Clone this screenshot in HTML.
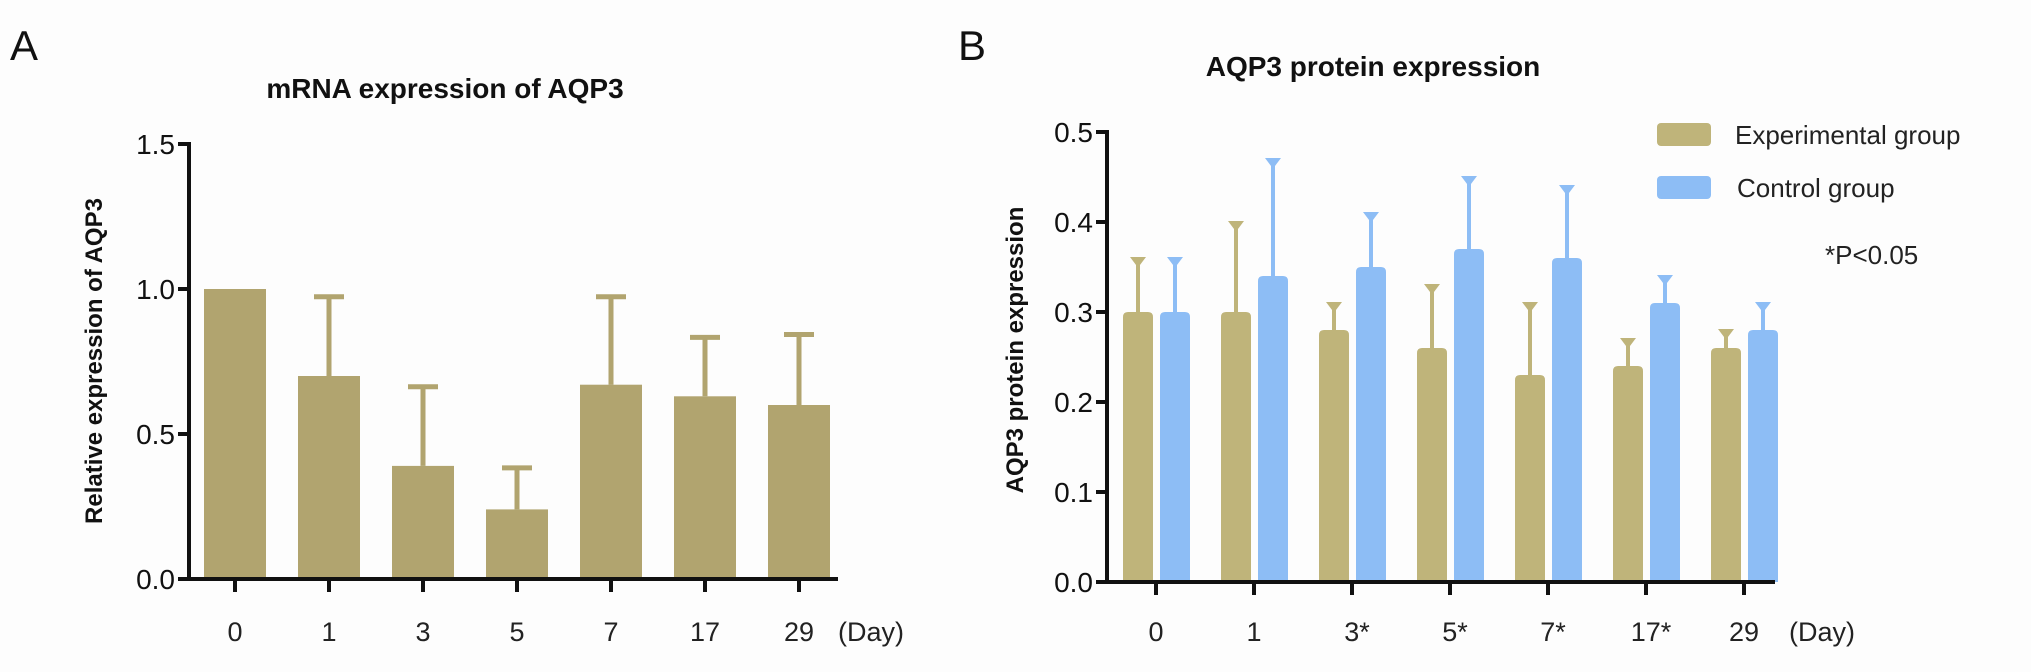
<!DOCTYPE html>
<html><head><meta charset="utf-8"><style>
html,body{margin:0;padding:0;background:#fff;}
svg{display:block;font-family:"Liberation Sans",Arial,sans-serif;}
</style></head><body>
<svg id="chart" width="2031" height="672" viewBox="0 0 2031 672" xmlns="http://www.w3.org/2000/svg">
<rect width="2031" height="672" fill="#fdfdfd"/>
<text x="10" y="60" font-size="42" fill="#111">A</text>
<text x="958" y="60" font-size="42" fill="#111">B</text>
<text x="445" y="98" font-size="28" font-weight="bold" text-anchor="middle" fill="#111">mRNA expression of AQP3</text>
<text x="1373" y="76" font-size="28" font-weight="bold" text-anchor="middle" fill="#111">AQP3 protein expression</text>
<text transform="translate(102,361) rotate(-90)" font-size="24" font-weight="bold" text-anchor="middle" fill="#111">Relative expression of AQP3</text>
<text transform="translate(1023,350) rotate(-90)" font-size="24" font-weight="bold" text-anchor="middle" fill="#111">AQP3 protein expression</text>
<g id="ga"></g>
<g id="gb"></g>
<g>
<g>
<rect x="1657" y="123" width="54" height="23" rx="4" fill="#bfb47a"/>
<text x="1735" y="144" font-size="26" fill="#222">Experimental group</text></g>
<g>
<rect x="1657" y="176" width="54" height="23" rx="4" fill="#8dbdf5"/>
<text x="1737" y="197" font-size="26" fill="#222">Control group</text></g>
</g>
<text x="1825" y="264" font-size="26" fill="#222">*P&lt;0.05</text>
</svg>
<script>
const aCategories = ["0","1","3","5","7","17","29"];
const aValues = [1.0,0.70,0.39,0.24,0.67,0.63,0.60];
const aErrTop = [1.0,0.98,0.67,0.39,0.98,0.84,0.85];
const aTicks = ["0.0","0.5","1.0","1.5"];
const bCategories = ["0","1","3*","5*","7*","17*","29"];
const bExp = [0.30,0.30,0.28,0.26,0.23,0.24,0.26];
const bExpErrTop = [0.36,0.40,0.31,0.33,0.31,0.27,0.28];
const bCtrl = [0.30,0.34,0.35,0.37,0.36,0.31,0.28];
const bCtrlErrTop = [0.36,0.47,0.41,0.45,0.44,0.34,0.31];
const bTicks = ["0.0","0.1","0.2","0.3","0.4","0.5"];

const NS="http://www.w3.org/2000/svg";
function mk(tag,attrs,parent){const e=document.createElementNS(NS,tag);for(const k in attrs)e.setAttribute(k,attrs[k]);parent.appendChild(e);return e;}

// Panel A
const ga=document.getElementById('ga');
const aX0=189, aY0=579, aYmax=1.5, aPx=435;
const ay=v=>aY0-v/aYmax*aPx;
const ax=i=>235+i*94;
aTicks.forEach(t=>{const v=parseFloat(t);
 const l=mk('line',{x1:aX0-11,x2:aX0,y1:ay(v),y2:ay(v),stroke:'#111','stroke-width':4},ga);
 
 
 const tx=mk('text',{x:aX0-14,y:ay(v)+10,'font-size':28,'text-anchor':'end',fill:'#111'},ga);tx.textContent=t;
 
 
});
aCategories.forEach((c,i)=>{
 const cx=ax(i);
 if(aErrTop[i]>aValues[i]){
  const e=mk('line',{x1:cx,x2:cx,y1:ay(aErrTop[i]),y2:ay(aValues[i]),stroke:'#b1a46f','stroke-width':5},ga);
  
  
  const cp=mk('line',{x1:cx-15,x2:cx+15,y1:ay(aErrTop[i])+2,y2:ay(aErrTop[i])+2,stroke:'#b1a46f','stroke-width':5},ga);
  
  
 }
 const r=mk('rect',{x:cx-31,y:ay(aValues[i]),width:62,height:aY0-ay(aValues[i]),fill:'#b1a46f'},ga);
 
 
 const tk=mk('line',{x1:cx,x2:cx,y1:aY0,y2:aY0+13,stroke:'#111','stroke-width':4},ga);
 
 
 const tx=mk('text',{x:cx,y:641,'font-size':27,'text-anchor':'middle',fill:'#222'},ga);tx.textContent=c;
 
 
});
let l1=mk('line',{x1:aX0,x2:aX0,y1:ay(1.5)-2,y2:aY0+2,stroke:'#111','stroke-width':4},ga);


let l2=mk('line',{x1:aX0-2,x2:838,y1:aY0,y2:aY0,stroke:'#111','stroke-width':4},ga);


let d1=mk('text',{x:871,y:641,'font-size':27,'text-anchor':'middle',fill:'#222'},ga);d1.textContent='(Day)';



// Panel B
const gb=document.getElementById('gb');
const bX0=1107, bY0=582, bYmax=0.5, bPx=450;
const by=v=>bY0-v/bYmax*bPx;
const bx=i=>1156+i*98;
bTicks.forEach(t=>{const v=parseFloat(t);
 const l=mk('line',{x1:bX0-11,x2:bX0,y1:by(v),y2:by(v),stroke:'#111','stroke-width':4},gb);
 
 
 const tx=mk('text',{x:bX0-14,y:by(v)+10,'font-size':28,'text-anchor':'end',fill:'#111'},gb);tx.textContent=t;
 
 
});
function bBar(cx,val,top,col,name){
 const e=mk('line',{x1:cx,x2:cx,y1:by(top),y2:by(val),stroke:col,'stroke-width':4},gb);
 
 
 const cp=mk('path',{d:`M${cx-6},${by(top)} L${cx+6},${by(top)} L${cx},${by(top)+8} Z`,fill:col,stroke:col,'stroke-width':2},gb);
 
 
 const y=by(val);
 const r=mk('path',{d:`M${cx-15},${bY0} L${cx-15},${y+5} Q${cx-15},${y} ${cx-10},${y} L${cx+10},${y} Q${cx+15},${y} ${cx+15},${y+5} L${cx+15},${bY0} Z`,fill:col},gb);
 
 
}
bCategories.forEach((c,i)=>{
 const cx=bx(i);
 bBar(cx-18,bExp[i],bExpErrTop[i],'#bfb47a','b-bar-experimental-day-'+c);
 bBar(cx+19,bCtrl[i],bCtrlErrTop[i],'#8dbdf5','b-bar-control-day-'+c);
 const tk=mk('line',{x1:cx,x2:cx,y1:bY0,y2:bY0+13,stroke:'#111','stroke-width':4},gb);
 
 
 const tx=mk('text',{x:cx+(c.includes('*')?5:0),y:641,'font-size':27,'text-anchor':'middle',fill:'#222'},gb);tx.textContent=c;
 
 
});
let l3=mk('line',{x1:bX0,x2:bX0,y1:by(0.5)-2,y2:bY0+2,stroke:'#111','stroke-width':4},gb);


let l4=mk('line',{x1:bX0-2,x2:1775,y1:bY0,y2:bY0,stroke:'#111','stroke-width':4},gb);


let d2=mk('text',{x:1822,y:641,'font-size':27,'text-anchor':'middle',fill:'#222'},gb);d2.textContent='(Day)';


</script>
</body></html>
